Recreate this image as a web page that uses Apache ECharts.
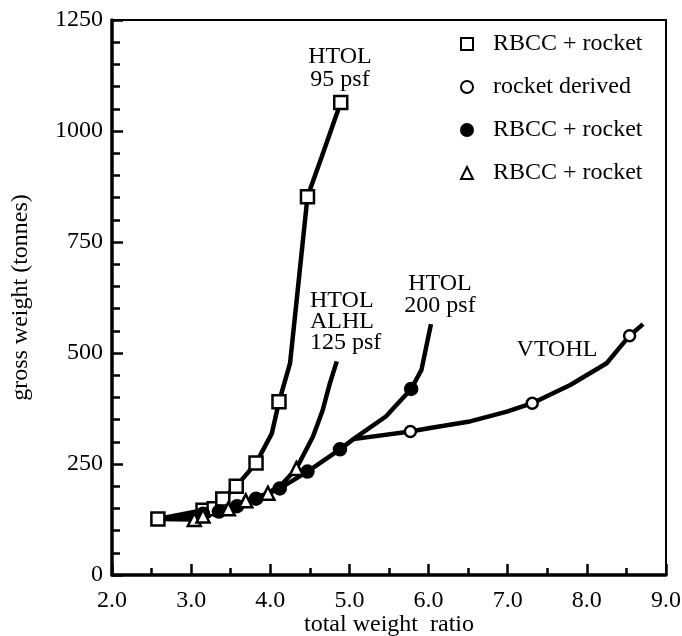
<!DOCTYPE html>
<html>
<head>
<meta charset="utf-8">
<script src="https://cdn.jsdelivr.net/npm/echarts@6/dist/echarts.min.js"></script>
<style>
  html, body { margin: 0; padding: 0; background: #fff; }
  #chart { width: 682px; height: 636px; }
</style>
</head>
<body>
<div id="chart"></div>
<script>
  // x ticks and y ticks
  const xTicks = [2, 3, 4, 5, 6, 7, 8, 9];
  const yTicks = [0, 250, 500, 750, 1000, 1250];

  // HTOL 95 psf (open squares)
  const htol95Line = [[2.58, 126], [3.15, 146], [3.29, 149], [3.40, 171], [3.57, 200], [3.82, 252], [4.02, 319], [4.11, 390], [4.25, 477], [4.47, 852], [4.65, 942], [4.89, 1064]];
  const htol95Marks = [[2.58, 126], [3.15, 146], [3.29, 149], [3.40, 171], [3.57, 200], [3.82, 252], [4.11, 390], [4.47, 852], [4.89, 1064]];

  // HTOL ALHL 125 psf (open triangles)
  const alhlLine = [[2.58, 126], [3.04, 125], [3.15, 133], [3.47, 149], [3.69, 167], [3.97, 184], [4.15, 205], [4.33, 240], [4.54, 312], [4.66, 370], [4.75, 430], [4.84, 481]];
  const alhlMarks = [[3.04, 125], [3.15, 133], [3.47, 149], [3.69, 167], [3.97, 184], [4.33, 240]];

  // HTOL 200 psf (filled circles)
  const htol200Line = [[2.58, 126], [3.15, 138], [3.35, 143], [3.58, 155], [3.82, 172], [4.12, 195], [4.47, 233], [4.88, 283], [5.05, 306], [5.46, 357], [5.78, 419], [5.91, 462], [6.03, 565]];
  const htol200Marks = [[3.15, 138], [3.35, 143], [3.58, 155], [3.82, 172], [4.12, 195], [4.47, 233], [4.88, 283], [5.78, 419]];

  // VTOHL (open circles)
  const vtohlLine = [[5.05, 306], [5.77, 323], [6.02, 331], [6.5, 345], [6.99, 368], [7.31, 387], [7.79, 428], [8.25, 477], [8.54, 539], [8.71, 565]];
  const vtohlMarks = [[5.77, 323], [7.31, 387], [8.54, 539]];

  const legendNames = ['RBCC + rocket', 'rocket derived', 'RBCC + rocket ', 'RBCC + rocket  '];

  const font = 'Liberation Serif';
  const chart = echarts.init(document.getElementById('chart'));

  function lineSeries(data) {
    return {
      type: 'line',
      data: data,
      symbol: 'none',
      lineStyle: { color: '#000', width: 4.5 },
      z: 2,
      silent: true
    };
  }

  function markSeries(name, data, symbol, size, filled) {
    return {
      name: name,
      type: 'scatter',
      data: data,
      symbol: symbol,
      symbolSize: size,
      itemStyle: {
        color: filled ? '#000' : '#fff',
        borderColor: '#000',
        borderWidth: 2.5,
        opacity: 1
      },
      z: 3
    };
  }

  const option = {
    animation: false,
    backgroundColor: '#fff',
    textStyle: { fontFamily: font },
    grid: {
      left: 112, right: 16, top: 20, bottom: 61,
      outerBoundsMode: 'none',
      show: true, borderColor: '#000', borderWidth: 2
    },
    legend: {
      orient: 'vertical',
      left: 455,
      top: 27,
      itemGap: 19,
      itemWidth: 12,
      itemHeight: 12,
      data: legendNames,
      selectedMode: false,
      textStyle: { fontFamily: font, fontSize: 24, color: '#000', padding: [0, 0, 0, 15] }
    },
    xAxis: {
      type: 'value',
      min: xTicks[0],
      max: xTicks[xTicks.length - 1],
      interval: 1,
      name: 'total weight  ratio',
      nameLocation: 'middle',
      nameGap: 38,
      nameMoveOverlap: false,
      nameTextStyle: { fontFamily: font, fontSize: 24, color: '#000' },
      axisLine: { onZero: false, lineStyle: { color: '#000', width: 3.5 } },
      axisTick: { inside: true, length: 11, lineStyle: { color: '#000', width: 2.5 } },
      minorTick: { show: true, splitNumber: 2, length: 7, lineStyle: { color: '#000', width: 2.5 } },
      splitLine: { show: false },
      axisLabel: {
        fontFamily: font, fontSize: 24, color: '#000', margin: 14,
        formatter: v => v.toFixed(1)
      }
    },
    yAxis: {
      type: 'value',
      min: yTicks[0],
      max: yTicks[yTicks.length - 1],
      interval: 250,
      name: 'gross weight (tonnes)',
      nameLocation: 'middle',
      nameGap: 79,
      nameMoveOverlap: false,
      nameTextStyle: { fontFamily: font, fontSize: 24, color: '#000' },
      axisLine: { onZero: false, lineStyle: { color: '#000', width: 3.5 } },
      axisTick: { inside: true, length: 11, lineStyle: { color: '#000', width: 2.5 } },
      minorTick: { show: true, splitNumber: 5, length: 8, lineStyle: { color: '#000', width: 2.5 } },
      splitLine: { show: false },
      axisLabel: {
        fontFamily: font, fontSize: 24, color: '#000', margin: 9,
        formatter: v => String(v)
      }
    },
    graphic: [
      { type: 'text', x: 340, y: 45, style: { text: 'HTOL\n95 psf', font: '24px ' + font, fill: '#000', textAlign: 'center', lineHeight: 23 } },
      { type: 'text', x: 310, y: 290, style: { text: 'HTOL\nALHL\n125 psf', font: '24px ' + font, fill: '#000', textAlign: 'left', lineHeight: 21 } },
      { type: 'text', x: 440, y: 273, style: { text: 'HTOL\n200 psf', font: '24px ' + font, fill: '#000', textAlign: 'center', lineHeight: 22 } },
      { type: 'text', x: 557, y: 338, style: { text: 'VTOHL', font: '24px ' + font, fill: '#000', textAlign: 'center' } }
    ],
    series: [
      lineSeries(htol95Line),
      lineSeries(alhlLine),
      lineSeries(htol200Line),
      lineSeries(vtohlLine),
      markSeries(legendNames[0], htol95Marks, 'rect', 13, false),
      markSeries(legendNames[1], vtohlMarks, 'circle', 11, false),
      markSeries(legendNames[2], htol200Marks, 'circle', 12, true),
      markSeries(legendNames[3], alhlMarks, 'triangle', 13, false)
    ]
  };

  chart.setOption(option);
  window.addEventListener('resize', () => chart.resize());
</script>
</body>
</html>
